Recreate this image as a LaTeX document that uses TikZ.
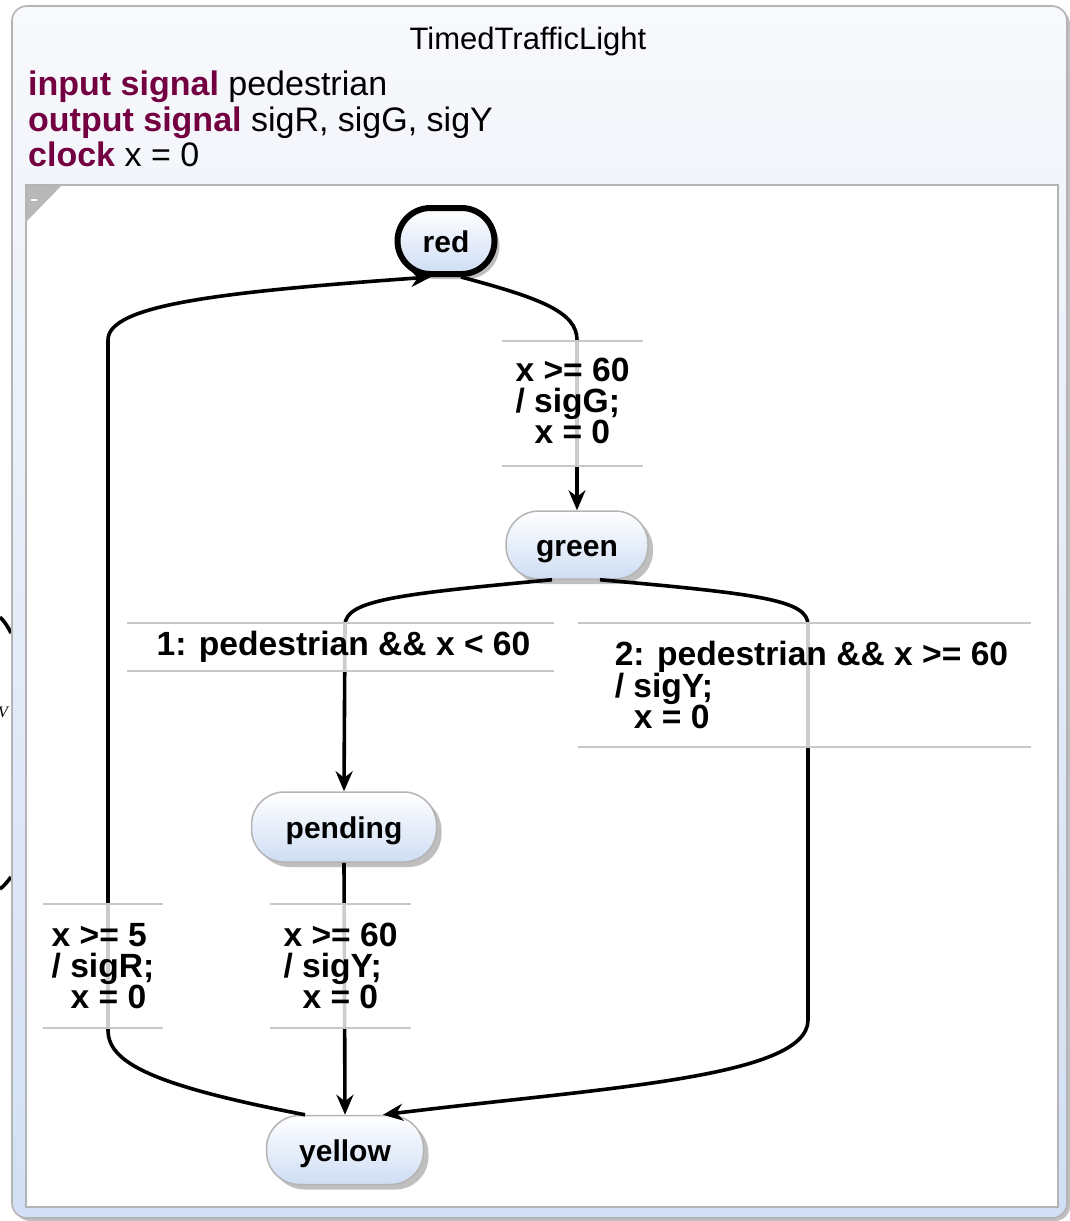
\documentclass[tikz,border=0pt]{standalone}
\usepackage{fontspec}
\setmainfont{Liberation Sans}
\newfontfamily\serifv{Liberation Serif}
\usetikzlibrary{arrows.meta,shadows}
\definecolor{kw}{RGB}{115,0,65}
\definecolor{stb}{RGB}{206,221,244}
\definecolor{boxtop}{RGB}{248,249,252}
\definecolor{boxbot}{RGB}{210,223,244}
\definecolor{frame}{RGB}{180,180,180}
\definecolor{lblgray}{RGB}{200,200,200}
\tikzset{
  state/.style={rectangle, rounded corners=33pt, draw=frame, line width=1.5pt,
    top color=white, bottom color=stb, inner sep=0pt, text height=26pt, text depth=4pt,
    font=\fontsize{30}{30}\selectfont\bfseries,
    drop shadow={shadow xshift=5pt, shadow yshift=-5pt, fill=black, opacity=0.25}},
  initstate/.style={state, draw=black, line width=6pt},
  edge/.style={draw=black, line width=3.6pt},
  arr/.style={-{Stealth[length=20pt,width=17pt]}},
  tlabel/.style={rectangle, fill=white, fill opacity=0.8, text opacity=1,
    inner sep=0pt, align=left, font=\fontsize{33.6}{31}\selectfont\bfseries},
  lblline/.style={draw=lblgray, line width=1.6pt},
  hdr/.style={anchor=base west, inner sep=0pt, font=\fontsize{34}{35}\selectfont},
}
\begin{document}
\begin{tikzpicture}[x=1pt,y=-1pt]
\useasboundingbox (0,0) rectangle (1069,1221);
% stray pieces at the left edge
\draw[edge] (0,617) .. controls (5,622) and (8,627) .. (11,633);
\draw[edge] (0,889) .. controls (5,885) and (8,881) .. (11,877);
\node[inner sep=0pt, font=\serifv\itshape\fontsize{16}{16}\selectfont] (vv) at (3,712) {V};
% outer box
\path[rounded corners=15pt, draw=frame, line width=1.6pt, top color=boxtop, bottom color=boxbot,
  drop shadow={shadow xshift=3pt, shadow yshift=-3pt, fill=black, opacity=0.25}]
  (12,6) rectangle (1067,1218);
\node[font=\fontsize{31}{31}\selectfont, inner sep=0pt] (title) at (528,41) {TimedTrafficLight};
\node[hdr] (h1) at (28,95) {\textcolor{kw}{\bfseries input signal} pedestrian};
\node[hdr] (h2) at (28,131) {\textcolor{kw}{\bfseries output signal} sigR, sigG, sigY};
\node[hdr] (h3) at (28,166) {\textcolor{kw}{\bfseries clock} x = 0};
% inner region
\path[fill=white, draw=frame, line width=1.6pt] (26,185) rectangle (1058,1207);
\fill[black!28] (27,186) -- (61,186) -- (27,221) -- cycle;
\fill[white] (31,199) rectangle (37,201);
% states
\node[initstate, minimum width=97pt, minimum height=66pt] (red) at (446,241) {red};
\node[state, minimum width=142pt, minimum height=68pt] (green) at (577,545) {green};
\node[state, minimum width=185pt, minimum height=70pt] (pending) at (344,827) {pending};
\node[state, minimum width=157pt, minimum height=69pt] (yellow) at (345,1150) {yellow};
% transitions
\draw[edge, arr] ([xshift=15pt]red.south) .. controls (540,298) and (577,312) .. (577,340)
  -- (green.north);
\draw[edge, arr] ([xshift=-25pt]green.south) .. controls (400,594) and (345,600) .. (345,625)
  -- (pending.north);
\draw[edge, arr] ([xshift=23pt]green.south) .. controls (760,594) and (808,600) .. (808,625)
  -- (808,1020) .. controls (808,1078) and (600,1088) .. ([xshift=38pt]yellow.north);
\draw[edge, arr] (pending.south) -- (yellow.north);
\draw[edge, arr] ([xshift=-40pt]yellow.north) .. controls (150,1085) and (108,1062) .. (108,1030)
  -- (108,340) .. controls (108,305) and (220,292) .. ([xshift=-15pt]red.south);
% labels
\node[tlabel, minimum width=141pt, minimum height=125pt] (l1) at (572.5,403.5)
  {x >= 60\\/ sigG;\\\hspace*{19pt}x = 0\vspace*{6pt}};
\node[tlabel, minimum width=427pt, minimum height=48pt] (l2) at (340.5,647)
  {\hspace*{6pt}1: pedestrian \&\& x < 60};
\node[tlabel, minimum width=453pt, minimum height=124pt] (l3) at (804.5,685)
  {\hspace*{14pt}2: pedestrian \&\& x >= 60\\\hspace*{14pt}/ sigY;\\\hspace*{33pt}x = 0};
\node[tlabel, minimum width=141pt, minimum height=124pt] (l4) at (340.5,966)
  {x >= 60\\/ sigY;\\\hspace*{19pt}x = 0};
\node[tlabel, minimum width=120pt, minimum height=124pt] (l5) at (103,966)
  {x >= 5\\/ sigR;\\\hspace*{19pt}x = 0};
\foreach \l in {l1,l2,l3,l4,l5}{
  \draw[lblline] (\l.north west) -- (\l.north east) (\l.south west) -- (\l.south east);
}
\end{tikzpicture}
\end{document}
